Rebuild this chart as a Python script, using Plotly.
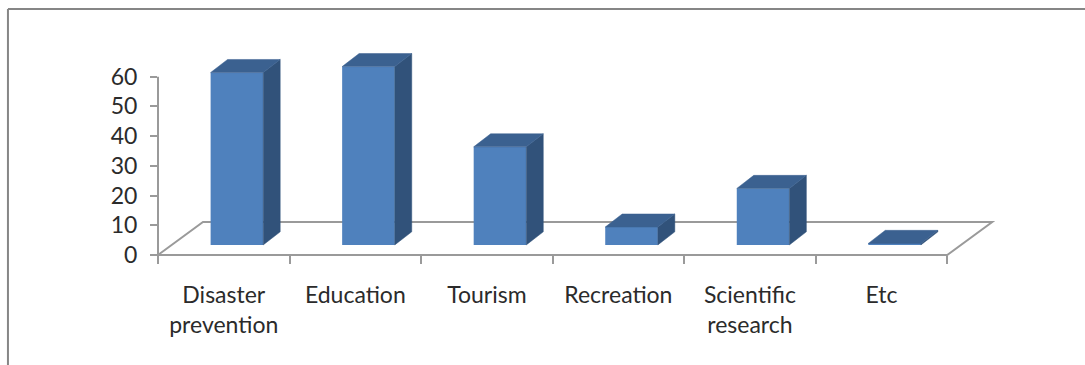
import plotly.graph_objects as go

# Survey results by purpose
categories = ["Disaster<br>prevention", "Education", "Tourism", "Recreation", "Scientific<br>research", "Etc"]
values = [58, 60, 33, 6, 19, 0.5]
y_ticks = [0, 10, 20, 30, 40, 50, 60]

FRONT = "#4f81bd"
SIDE = "#31527a"
TOP = "#3b6190"
AXIS = "#9a9a9a"
FRAME = "#868686"
TEXT = "#2b2b2b"
FONT = "Lato"
FONT_SIZE = 23

# Axis ranges leave headroom for the column depth and the floor overhang
X_MAX = 6.5
Y_MAX = 70

# Canvas and plot area, in pixels
WIDTH, HEIGHT = 1085, 365
LEFT, RIGHT, TOP_M, BOTTOM = 158, 72.25, 47, 110
PLOT_W = WIDTH - LEFT - RIGHT
PLOT_H = HEIGHT - TOP_M - BOTTOM

# Oblique projection constants, in axis units
BAR_WIDTH = 0.40
BAR_LEFT = 0.40
BAR_BASE = 3.4
DEPTH_X = 0.129
DEPTH_Y = 4.4
FLOOR_X = 0.342
FLOOR_Y = 11.1

n = len(categories)
fig = go.Figure()

# Side and top faces of each column
for i, v in enumerate(values):
    left = i + BAR_LEFT
    right = left + BAR_WIDTH
    top = BAR_BASE + v
    fig.add_trace(go.Scatter(
        x=[right, right + DEPTH_X, right + DEPTH_X, right, right],
        y=[BAR_BASE, BAR_BASE + DEPTH_Y, top + DEPTH_Y, top, BAR_BASE],
        mode="lines", fill="toself", fillcolor=SIDE, line=dict(color=SIDE, width=0.5),
        hoverinfo="skip", showlegend=False,
    ))
    fig.add_trace(go.Scatter(
        x=[left, left + DEPTH_X, right + DEPTH_X, right, left],
        y=[top, top + DEPTH_Y, top + DEPTH_Y, top, top],
        mode="lines", fill="toself", fillcolor=TOP, line=dict(color=TOP, width=0.5),
        hoverinfo="skip", showlegend=False,
    ))

# Front faces
fig.add_trace(go.Bar(
    x=[i + BAR_LEFT + BAR_WIDTH / 2 for i in range(n)],
    y=values,
    base=BAR_BASE,
    width=BAR_WIDTH,
    marker=dict(color=FRONT, line=dict(width=0)),
    showlegend=False,
))


def plot_point(x, y):
    """Axis units to plot-area fractions, for shapes drawn behind the traces."""
    return f"{x / X_MAX} {y / Y_MAX}"


floor_path = "M {} L {} L {} L {} Z".format(
    plot_point(0, 0),
    plot_point(FLOOR_X, FLOOR_Y),
    plot_point(n + FLOOR_X, FLOOR_Y),
    plot_point(n, 0),
)
y_axis_path = "M {} L {}".format(plot_point(0, 0), plot_point(0, y_ticks[-1]))

frame_left = (8 - LEFT) / PLOT_W
frame_right = (WIDTH - LEFT) / PLOT_W
frame_top = (PLOT_H + TOP_M - 9) / PLOT_H
frame_bottom = -BOTTOM / PLOT_H

fig.update_layout(
    width=WIDTH, height=HEIGHT,
    autosize=False,
    margin=dict(l=LEFT, r=RIGHT, t=TOP_M, b=BOTTOM),
    paper_bgcolor="white",
    plot_bgcolor="rgba(0,0,0,0)",
    font=dict(family=FONT, size=FONT_SIZE, color=TEXT),
    xaxis=dict(
        range=[0, X_MAX], tickmode="array",
        tickvals=[i + 0.5 for i in range(n)], ticktext=categories,
        ticks="", ticklabelstandoff=24,
        minor=dict(tickmode="array", tickvals=list(range(n + 1)),
                   ticks="outside", ticklen=8, tickwidth=2, tickcolor=AXIS, showgrid=False),
        showgrid=False, zeroline=False, showline=False,
        tickfont=dict(family=FONT, size=FONT_SIZE, color=TEXT),
    ),
    yaxis=dict(
        range=[0, Y_MAX], tickmode="array", tickvals=y_ticks,
        ticks="outside", ticklen=7, tickwidth=2, tickcolor=AXIS,
        ticklabelstandoff=8,
        showline=False, showgrid=False, zeroline=False,
        tickfont=dict(family=FONT, size=FONT_SIZE, color=TEXT),
    ),
    shapes=[
        dict(type="path", xref="paper", yref="paper", path=floor_path,
             line=dict(color=AXIS, width=2), fillcolor="rgba(0,0,0,0)", layer="below"),
        dict(type="path", xref="paper", yref="paper", path=y_axis_path,
             line=dict(color=AXIS, width=2), layer="below"),
        # Chart frame: top and left edges only, the rest runs off the canvas
        dict(type="line", xref="paper", yref="paper",
             x0=frame_left, x1=frame_right, y0=frame_top, y1=frame_top,
             line=dict(color=FRAME, width=2)),
        dict(type="line", xref="paper", yref="paper",
             x0=frame_left, x1=frame_left, y0=frame_bottom, y1=frame_top,
             line=dict(color=FRAME, width=2)),
    ],
)

fig.write_html("out.html")
